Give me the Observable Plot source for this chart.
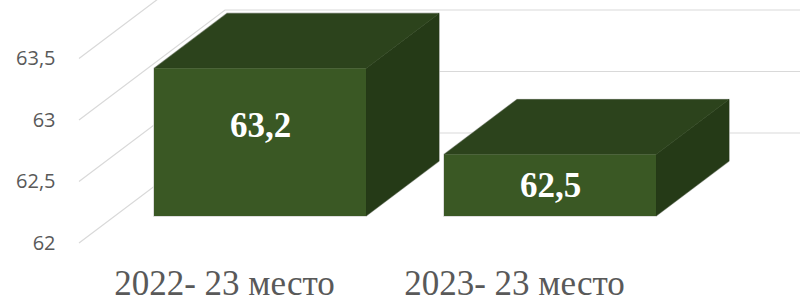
<!DOCTYPE html>
<html>
<head>
<meta charset="utf-8">
<script src="https://cdn.jsdelivr.net/npm/d3@7"></script>
<script src="https://cdn.jsdelivr.net/npm/@observablehq/plot@0.6"></script>
<style>
  html, body { margin: 0; padding: 0; background: #ffffff; }
  svg { display: block; }
</style>
</head>
<body>
<script>
// ---- data ----
const categories = ["2022- 23 место", "2023- 23 место"];
const values = [63.2, 62.5];
const valueLabels = ["63,2", "62,5"];
const yTicks = [62, 62.5, 63, 63.5];
const yTickLabels = ["62", "62,5", "63", "63,5"];
const yDomain = [62, 64];

// ---- style / 3D geometry constants (pixels) ----
const FRONT_COLOR = "#3a5824";
const TOP_COLOR = "#2c431c";
const SIDE_COLOR = "#253a17";
const OUTLINE = "#d4d4d4";
const GRID = "#d9d9d9";
const DEPTH = [73, -55];       // bar front -> bar back
const WALL_FRONT = [-36, 27];  // bar front -> front edge of walls
const WALL_BACK = [110, -83];  // bar front -> back wall

const rows = categories.map((c, i) => ({cat: c, value: values[i], base: yDomain[0], label: valueLabels[i]}));

function gridMark(index, scales, channels, dims) {
  const {y} = scales;
  const g = d3.create("svg:g");
  const L = dims.marginLeft, R = dims.width - dims.marginRight;
  for (const v of yTicks) {
    const yy = y(v);
    g.append("path")
      .attr("d", `M${L + WALL_FRONT[0]},${yy + WALL_FRONT[1]}L${L + WALL_BACK[0]},${yy + WALL_BACK[1]}L${R + WALL_BACK[0]},${yy + WALL_BACK[1]}`)
      .attr("fill", "none")
      .attr("stroke", GRID)
      .attr("stroke-width", 1.2);
  }
  return g.node();
}

function barSidesMark(index, scales, channels, dims) {
  const {x, y} = scales;
  const bw = typeof x.bandwidth === "function" ? x.bandwidth() : x.bandwidth;
  const g = d3.create("svg:g");
  for (const r of rows) {
    const x0 = x(r.cat), x1 = x0 + bw;
    const yt = y(r.value), yb = y(r.base);
    const [dx, dy] = DEPTH;
    g.append("path")
      .attr("d", `M${x0},${yb}L${x0},${yt}L${x0 + dx},${yt + dy}L${x1 + dx},${yt + dy}L${x1 + dx},${yb + dy}L${x1},${yb}Z`)
      .attr("fill", "none").attr("stroke", OUTLINE).attr("stroke-width", 1.6);
    g.append("path")
      .attr("d", `M${x1},${yt}L${x1 + dx},${yt + dy}L${x1 + dx},${yb + dy}L${x1},${yb}Z`)
      .attr("fill", SIDE_COLOR).attr("stroke", SIDE_COLOR).attr("stroke-width", 0.5);
    g.append("path")
      .attr("d", `M${x0},${yt}L${x1},${yt}L${x1 + dx},${yt + dy}L${x0 + dx},${yt + dy}Z`)
      .attr("fill", TOP_COLOR).attr("stroke", TOP_COLOR).attr("stroke-width", 0.5);
  }
  return g.node();
}

const chart = Plot.plot({
  width: 800,
  height: 303,
  marginLeft: 115,
  marginRight: 105,
  marginTop: 0,
  marginBottom: 87,
  style: {background: "#ffffff"},
  x: {domain: categories, paddingInner: 0.27, paddingOuter: 0.135, align: 0.5, axis: null},
  y: {domain: yDomain, range: [216, -30], axis: null},
  marks: [
    gridMark,
    barSidesMark,
    Plot.barY(rows, {x: "cat", y1: "base", y2: "value", fill: FRONT_COLOR}),
    Plot.text(rows, {
      x: "cat",
      y: d => d.base + 0.7 * (d.value - d.base) - 0.1,
      text: "label",
      fill: "#ffffff",
      fontWeight: "bold",
      fontFamily: "Liberation Serif, Times New Roman, serif",
      fontSize: 35
    }),
    Plot.text(rows, {
      x: "cat", y: "base", dx: WALL_FRONT[0], dy: 67,
      text: "cat", fill: "#595959",
      fontFamily: "Liberation Serif, Times New Roman, serif", fontSize: 35
    }),
    Plot.text(yTicks, {
      y: d => d,
      text: (d, i) => yTickLabels[i],
      frameAnchor: "left", textAnchor: "end",
      dx: -60, dy: WALL_FRONT[1],
      fill: "#595959", fontFamily: "Open Sans", fontSize: 20
    })
  ]
});
document.body.appendChild(chart);
</script>
</body>
</html>
